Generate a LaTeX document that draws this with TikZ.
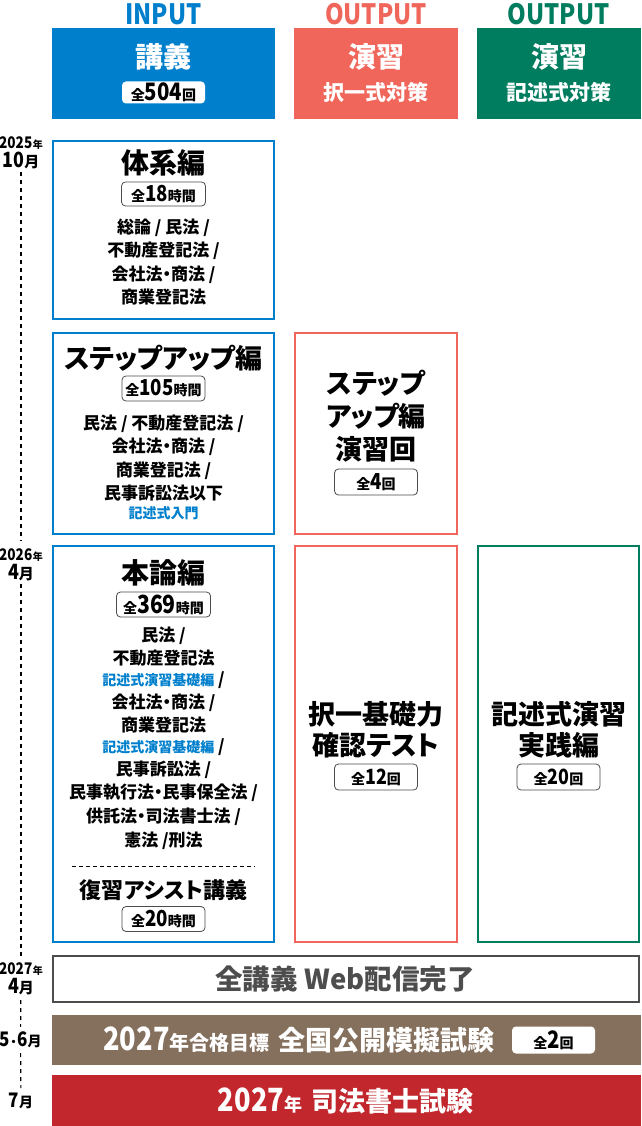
\documentclass[tikz,border=0pt]{standalone}
\usepackage{fontspec}
\setmainfont{Noto Sans CJK JP}[RawFeature=+palt]
\newfontfamily\cnd{Noto Sans CJK JP}[FakeStretch=0.85]
\definecolor{cblue}{HTML}{0080CC}
\definecolor{cred}{HTML}{F0665B}
\definecolor{cgreen}{HTML}{007C5F}
\definecolor{cbrown}{HTML}{85705E}
\definecolor{ccrim}{HTML}{C1272D}
\definecolor{cgray}{HTML}{4D4D4D}
\newcommand\fsz[2]{\fontsize{#1}{#2}\selectfont}
\newcommand\cntA[3]{{\fsz{14}{14}全}{\cnd\fsz{#1}{#1}#2}{\fsz{14}{14}#3}}
\tikzset{
  hlab/.style={font=\cnd\bfseries\fsz{28}{28}},
  hbox/.style={minimum height=91pt},
  htxt/.style={font=\bfseries\fsz{28}{28}, text=white},
  hsub/.style={font=\bfseries\fsz{21}{21}, text=white},
  wpill/.style={fill=white, rounded corners=4pt, minimum width=83pt, minimum height=22pt, font=\bfseries},
  pill/.style={draw=black!70, line width=0.8pt, fill=white, rounded corners=4pt, minimum width=83pt, minimum height=25pt, font=\bfseries},
  colbox/.style={draw=#1, line width=2pt},
  ttl/.style={font=\bfseries\fsz{28}{33}, align=center},
  body/.style={font=\bfseries\fsz{17}{23.3}, align=center},
  bluesm/.style={font=\bfseries\fsz{14}{16}, text=cblue},
  tl/.style={font=\bfseries\fsz{14}{16}, align=center},
  tline/.style={draw=black, line width=1.2pt, dash pattern=on 4pt off 4pt}
}
\begin{document}
\begin{tikzpicture}[x=1pt,y=-1pt, every node/.style={inner sep=0pt, outer sep=0pt}]
\useasboundingbox[fill=white] (0,0) rectangle (641,1126);

% column headers
\node[hlab,text=cblue] (lin) at (163.5,14) {INPUT};
\node[hlab,text=cred] (lo1) at (376,14) {OUTPUT};
\node[hlab,text=cgreen] (lo2) at (558.5,14) {OUTPUT};
\node[hbox,fill=cblue,minimum width=223pt] (hin) at (163.5,73.5) {};
\node[hbox,fill=cred,minimum width=164pt] (hr) at (376,73.5) {};
\node[hbox,fill=cgreen,minimum width=164pt] (hg) at (559,73.5) {};
\node[htxt] (hint) at (163.5,57) {講義};
\node[wpill] (hinp) at (163.5,92.5) {\cntA{24}{504}{回}};
\node[htxt] (hrt) at (376,57) {演習};
\node[hsub] (hrs) at (376,92) {択一式対策};
\node[htxt] (hgt) at (559,57) {演習};
\node[hsub] (hgs) at (559,92) {記述式対策};

% 体系編
\node[colbox=cblue, minimum width=221pt, minimum height=178pt] (b1) at (163.5,230) {};
\node[ttl] (b1t) at (163.5,163) {体系編};
\node[pill, minimum width=84pt, minimum height=24pt] (b1p) at (163.5,194) {\cntA{22}{18}{時間}};
\node[body] (b1b) at (163.5,262) {総論 / 民法 /\\不動産登記法 /\\会社法・商法 /\\商業登記法};

% ステップアップ編
\node[colbox=cblue, minimum width=221pt, minimum height=201pt] (b2) at (163.5,433.5) {};
\node[ttl, font=\bfseries\fsz{27}{30}] (b2t) at (163.5,358) {ステップアップ編};
\node[pill] (b2p) at (163.5,388.5) {\cntA{22}{105}{時間}};
\node[body] (b2b) at (163.5,458) {民法 / 不動産登記法 /\\会社法・商法 /\\商業登記法 /\\民事訴訟法以下};
\node[bluesm] (b2s) at (163.5,513) {記述式入門};

\node[colbox=cred, minimum width=162pt, minimum height=201pt] (r2) at (376,433.5) {};
\node[ttl, font=\bfseries\fsz{27}{33}] (r2t) at (376,416) {ステップ\\アップ編\\演習回};
\node[pill, minimum height=26pt] (r2p) at (376,482) {\cntA{22}{4}{回}};

% 本論編
\node[colbox=cblue, minimum width=221pt, minimum height=396pt] (b3) at (163.5,744) {};
\node[ttl] (b3t) at (163.5,573) {本論編};
\node[pill, minimum width=94pt] (b3p) at (163.5,604.5) {\cntA{25}{369}{時間}};
\node[body] (b3b) at (163.5,738.5) {民法 /\\不動産登記法\\[-3pt]{\color{cblue}\fsz{14}{23.3}記述式演習基礎編} /\\会社法・商法 /\\商業登記法\\[-3pt]{\color{cblue}\fsz{14}{23.3}記述式演習基礎編} /\\民事訴訟法 /\\民事執行法・民事保全法 /\\供託法・司法書士法 /\\[1.5pt]憲法 /刑法};
\coordinate (sepL) at (72,866);
\coordinate (sepR) at (255,866);
\draw[line width=0.9pt, dash pattern=on 4pt off 3pt] (sepL) -- (sepR);
\node[ttl, font=\bfseries\fsz{22}{26}] (b3r) at (163.5,890) {復習アシスト講義};
\node[pill] (b3rp) at (163.5,919) {\cntA{22}{20}{時間}};

\node[colbox=cred, minimum width=162pt, minimum height=396pt] (r3) at (376,744) {};
\node[ttl, font=\bfseries\fsz{27}{31}] (r3t) at (376,729.5) {択一基礎力\\確認テスト};
\node[pill, minimum height=26pt] (r3p) at (376,777) {\cntA{21}{12}{回}};

\node[colbox=cgreen, minimum width=161pt, minimum height=396pt] (g3) at (558.5,744) {};
\node[ttl, font=\bfseries\fsz{27}{31}] (g3t) at (558.5,729.5) {記述式演習\\実践編};
\node[pill, minimum height=26pt] (g3p) at (558.5,777) {\cntA{21}{20}{回}};

% bottom bars
\node[draw=cgray, line width=2pt, minimum width=586pt, minimum height=46pt] (web) at (346,979) {};
\node[font=\bfseries\fsz{27.5}{27.5}, text=cgray] (webt) at (345,979) {全講義\hspace{7pt}Web配信完了};
\node[fill=cbrown, minimum width=589pt, minimum height=50pt] (mock) at (346.5,1040) {};
\node[text=white, font=\bfseries] (mockt) at (299,1040) {{\cnd\fsz{32}{32}2027}{\fsz{20}{20}年合格目標}\hspace{9pt}{\fsz{27}{27}全国公開模擬試験}};
\node[wpill, minimum height=27pt] (mockp) at (553.5,1040) {\cntA{24}{2}{回}};
\node[fill=ccrim, minimum width=589pt, minimum height=51pt] (exam) at (346.5,1100.5) {};
\node[text=white, font=\bfseries] (examt) at (345.5,1101) {{\cnd\fsz{32}{32}2027}{\fsz{18}{18}年}\hspace{9pt}{\fsz{27}{27}司法書士試験}};

% timeline
\node[tl] (t1) at (21,153) {{\cnd\fsz{16}{16}2025}\kern0.5pt{\fsz{10}{10}年}\\[2pt]{\cnd\fsz{21}{21}10}{\fsz{15}{15}月}};
\node[tl] (t2) at (21,565) {{\cnd\fsz{16}{16}2026}\kern0.5pt{\fsz{10}{10}年}\\[2pt]{\cnd\fsz{21}{21}4}{\fsz{15}{15}月}};
\node[tl] (t3) at (21,979) {{\cnd\fsz{16}{16}2027}\kern0.5pt{\fsz{10}{10}年}\\[2pt]{\cnd\fsz{21}{21}4}{\fsz{15}{15}月}};
\node[tl] (t4) at (20.5,1040) {{\cnd\fsz{20}{20}5}\kern0.8pt{\fsz{12}{12}・}\kern0.8pt{\cnd\fsz{20}{20}6}{\fsz{14}{14}月}};
\node[tl] (t5) at (21,1101) {{\cnd\fsz{20}{20}7}{\fsz{14}{14}月}};
\draw[tline, shorten <=3pt, shorten >=8pt] (t1) -- (t2);
\draw[tline, shorten <=3pt, shorten >=6pt] (t2) -- (t3);
\draw[tline, shorten <=5pt, shorten >=5pt] (t3) -- (t4);
\draw[tline, shorten <=5pt, shorten >=5pt] (t4) -- (t5);
\end{tikzpicture}
\end{document}
